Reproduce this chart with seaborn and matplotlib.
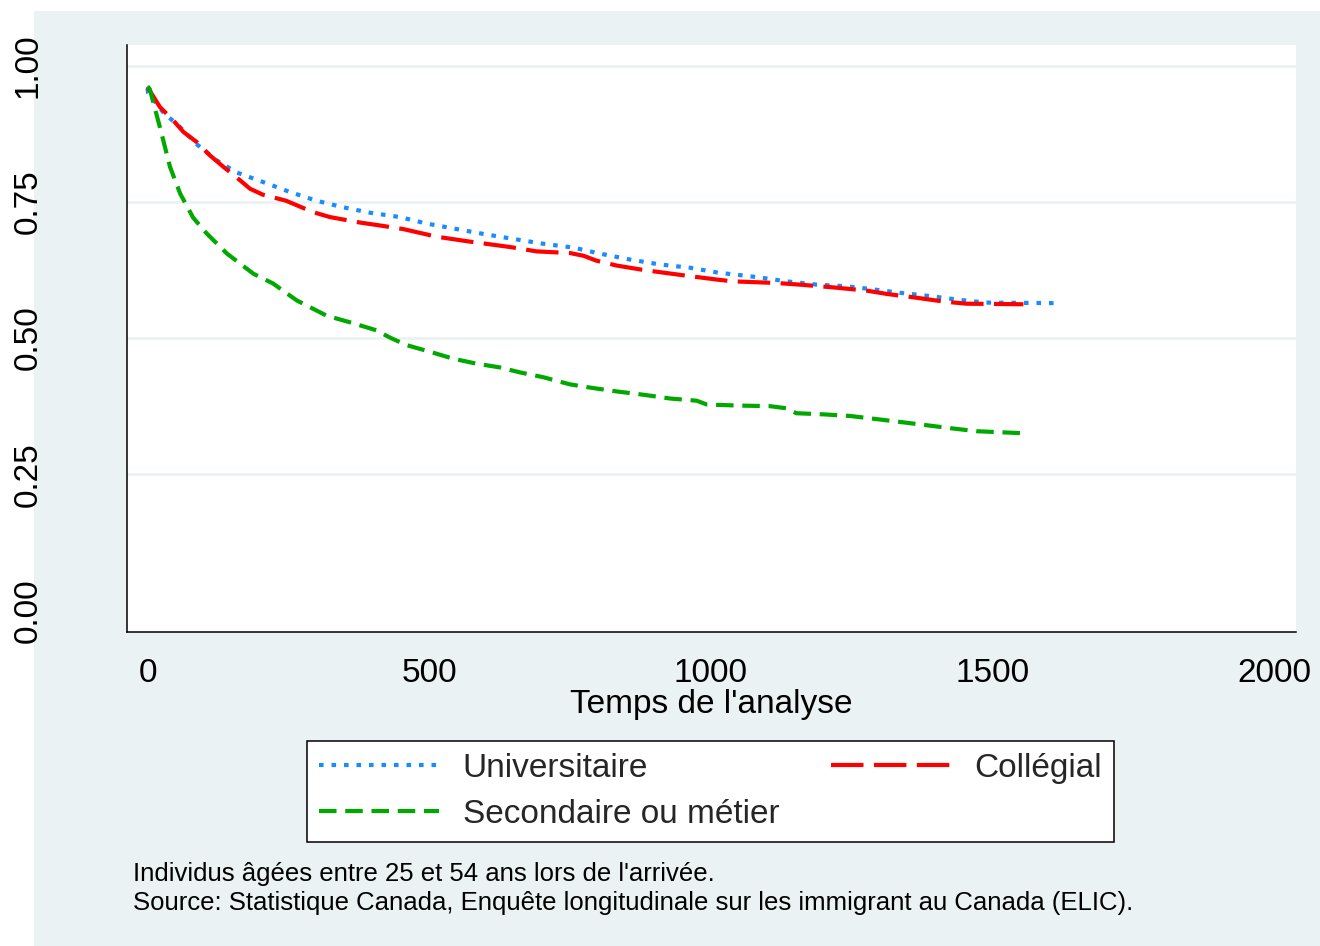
import numpy as np
import pandas as pd
import matplotlib
matplotlib.use("Agg")
import matplotlib.pyplot as plt
import seaborn as sns
from matplotlib.patches import Rectangle

# Courbes de survie
temps_univ = [0, 1, 28, 58, 87, 123, 158, 206, 253, 300, 347, 395, 448, 496, 549,
              602, 649, 703, 756, 803, 857, 910, 963, 1013, 1081, 1135, 1188, 1241,
              1283, 1336, 1389, 1442, 1489, 1620]
survie_univ = [0.958, 0.950, 0.914, 0.887, 0.856, 0.826, 0.804, 0.786, 0.768, 0.752,
               0.740, 0.730, 0.722, 0.710, 0.700, 0.690, 0.682, 0.673, 0.666, 0.655,
               0.644, 0.635, 0.629, 0.620, 0.612, 0.604, 0.598, 0.595, 0.590, 0.583,
               0.577, 0.570, 0.565, 0.564]

temps_coll = [0, 4, 22, 46, 64, 87, 111, 135, 158, 182, 205, 246, 294, 324, 377, 410,
              454, 513, 572, 644, 691, 750, 774, 797, 833, 880, 945, 1013, 1040, 1117,
              1158, 1217, 1277, 1312, 1365, 1413, 1454, 1555]
survie_coll = [0.960, 0.954, 0.924, 0.899, 0.878, 0.860, 0.835, 0.814, 0.795, 0.774,
               0.763, 0.752, 0.731, 0.722, 0.712, 0.707, 0.700, 0.686, 0.677, 0.667,
               0.659, 0.656, 0.651, 0.642, 0.633, 0.625, 0.616, 0.607, 0.604, 0.601,
               0.598, 0.593, 0.587, 0.581, 0.574, 0.567, 0.563, 0.562]

temps_sec = [0, 4, 22, 40, 58, 81, 105, 141, 188, 223, 265, 318, 359, 407, 430, 460,
             501, 543, 584, 626, 661, 703, 750, 786, 833, 880, 928, 975, 993, 1052,
             1105, 1135, 1152, 1199, 1247, 1288, 1336, 1383, 1430, 1472, 1561]
survie_sec = [0.962, 0.957, 0.887, 0.814, 0.765, 0.721, 0.692, 0.655, 0.618, 0.600,
              0.569, 0.541, 0.529, 0.514, 0.501, 0.487, 0.475, 0.462, 0.453, 0.446,
              0.437, 0.428, 0.415, 0.409, 0.402, 0.396, 0.389, 0.385, 0.378, 0.376,
              0.375, 0.371, 0.362, 0.360, 0.357, 0.352, 0.346, 0.340, 0.334, 0.329,
              0.325]

noms = ["Universitaire", "Collégial", "Secondaire ou métier"]
x_ticks = [0, 500, 1000, 1500, 2000]
y_ticks = [0.0, 0.25, 0.50, 0.75, 1.00]
note = ("Individus âgées entre 25 et 54 ans lors de l'arrivée.\n"
        "Source: Statistique Canada, Enquête longitudinale sur les immigrant au Canada (ELIC).")

sns.set_style("white")
plt.rcParams['font.family'] = ['Liberation Sans', 'DejaVu Sans']

fond = '#EAF2F3'
fig = plt.figure(figsize=(13.2, 9.46), dpi=100, facecolor='white')
fig.add_artist(Rectangle((34 / 1320, 0), 1 - 34 / 1320, 1 - 11 / 946,
                         transform=fig.transFigure, facecolor=fond,
                         edgecolor='none', zorder=-1))
ax = fig.add_axes([127 / 1320, 1 - 632 / 946, 1169 / 1320, 587 / 946])
ax.set_facecolor('white')

styles = [
    (temps_univ, survie_univ, '#1a8cff', (0, (1.1, 1.9))),
    (temps_coll, survie_coll, '#ff0000', (0, (7.8, 2.5))),
    (temps_sec, survie_sec, '#00a800', (0, (4.2, 2.1))),
]
for (t, s, c, ls), nom in zip(styles, noms):
    df = pd.DataFrame({'temps': t, 'survie': s})
    sns.lineplot(data=df, x='temps', y='survie', ax=ax, color=c, linestyle=ls,
                 linewidth=3.0, label=nom, estimator=None, sort=False)

ax.set_xlim(-36.4, 2039)
ax.set_ylim(-0.0395, 1.0378)
ax.set_xticks(x_ticks)
ax.set_yticks(y_ticks)
ax.set_yticklabels([f"{v:.2f}" for v in y_ticks])

# grille horizontale claire, sauf à 0
ax.yaxis.grid(True, color=fond, linewidth=1.9)
ax.xaxis.grid(False)
ax.get_ygridlines()[0].set_visible(False)
ax.set_axisbelow(True)

for cote in ['top', 'right']:
    ax.spines[cote].set_visible(False)
for cote in ['left', 'bottom']:
    ax.spines[cote].set_color('black')
    ax.spines[cote].set_linewidth(1.1)

ax.tick_params(axis='both', direction='out', length=9, width=1.1, color='black',
               labelsize=24, labelcolor='black')
ax.tick_params(axis='x', pad=10)
ax.tick_params(axis='y', pad=51, labelrotation=90)
for lab in ax.get_yticklabels():
    lab.set_va('center')

ax.set_xlabel("Temps de l'analyse", fontsize=24, labelpad=0, color='black')
ax.set_ylabel("")

handles, labels = ax.get_legend_handles_labels()
ax.get_legend().remove()
ordre = [0, 2, 1]
leg = fig.legend([handles[i] for i in ordre], [labels[i] for i in ordre],
                 loc='center', bbox_to_anchor=(710.5 / 1320, 1 - 791.5 / 946),
                 ncol=2, fontsize=24, frameon=True, fancybox=False, framealpha=1,
                 handlelength=3.6, handletextpad=0.7, columnspacing=1.55,
                 labelspacing=0.45, borderpad=0.36)
leg.get_frame().set_edgecolor('black')
leg.get_frame().set_linewidth(1.1)
leg.get_frame().set_facecolor('white')

fig.text(133 / 1320, 1 - 862 / 946, note, fontsize=18.5, va='top', ha='left',
         linespacing=1.25, color='black')

fig.savefig('out.png', dpi=100, facecolor='white')
